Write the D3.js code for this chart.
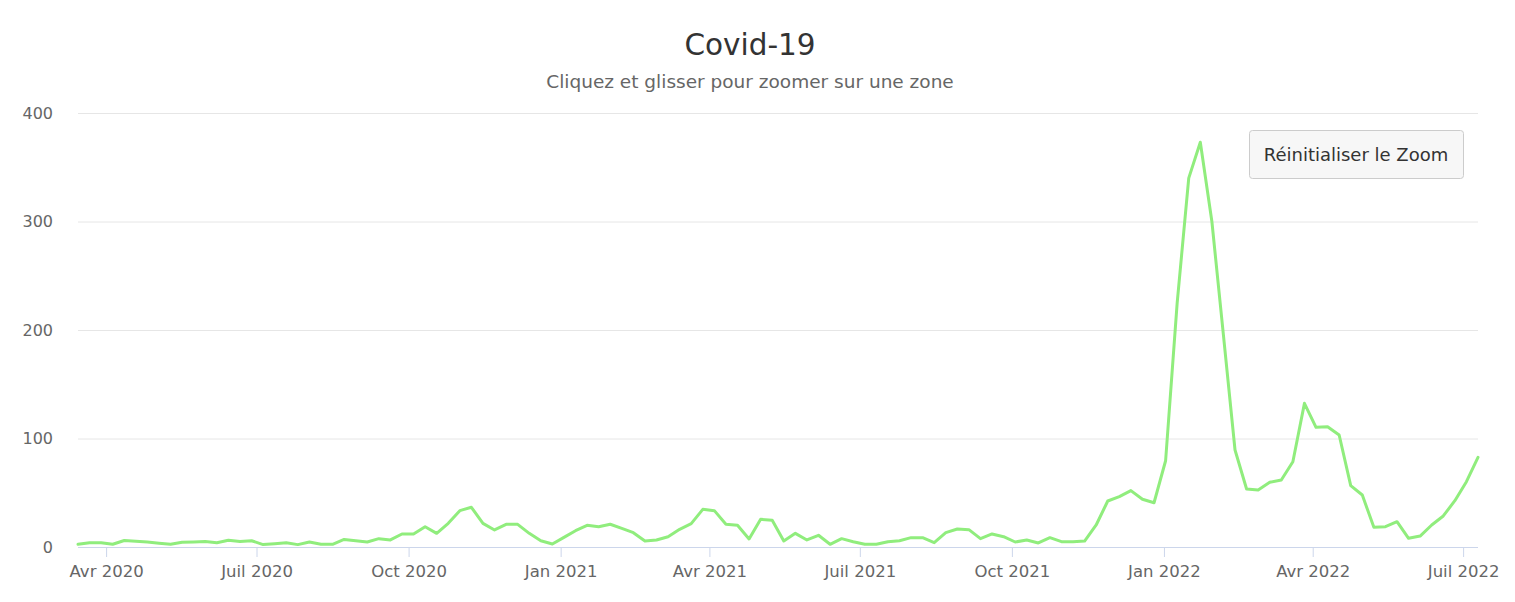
<!DOCTYPE html>
<html>
<head>
<meta charset="utf-8">
<script src="https://cdn.jsdelivr.net/npm/d3@7"></script>
<style>
  html, body { margin: 0; padding: 0; background: #fff; }
  svg { display: block; font-family: "DejaVu Sans", sans-serif; }
</style>
</head>
<body>
<svg id="chart" width="1515" height="602"></svg>
<script>
const titleText = "Covid-19";
const subtitleText = "Cliquez et glisser pour zoomer sur une zone";
const buttonText = "Réinitialiser le Zoom";

const dates = [
  "2020-03-15","2020-03-22","2020-03-29","2020-04-05","2020-04-12","2020-04-19","2020-04-26",
  "2020-05-03","2020-05-10","2020-05-17","2020-05-24","2020-05-31","2020-06-07","2020-06-14",
  "2020-06-21","2020-06-28","2020-07-05","2020-07-12","2020-07-19","2020-07-26","2020-08-02",
  "2020-08-09","2020-08-16","2020-08-23","2020-08-30","2020-09-06","2020-09-13","2020-09-20",
  "2020-09-27","2020-10-04","2020-10-11","2020-10-18","2020-10-25","2020-11-01","2020-11-08",
  "2020-11-15","2020-11-22","2020-11-29","2020-12-06","2020-12-13","2020-12-20","2020-12-27",
  "2021-01-03","2021-01-10","2021-01-17","2021-01-24","2021-01-31","2021-02-07","2021-02-14",
  "2021-02-21","2021-02-28","2021-03-07","2021-03-14","2021-03-21","2021-03-28","2021-04-04",
  "2021-04-11","2021-04-18","2021-04-25","2021-05-02","2021-05-09","2021-05-16","2021-05-23",
  "2021-05-30","2021-06-06","2021-06-13","2021-06-20","2021-06-27","2021-07-04","2021-07-11",
  "2021-07-18","2021-07-25","2021-08-01","2021-08-08","2021-08-15","2021-08-22","2021-08-29",
  "2021-09-05","2021-09-12","2021-09-19","2021-09-26","2021-10-03","2021-10-10","2021-10-17",
  "2021-10-24","2021-10-31","2021-11-07","2021-11-14","2021-11-21","2021-11-28","2021-12-05",
  "2021-12-12","2021-12-19","2021-12-26","2022-01-02","2022-01-09","2022-01-16","2022-01-23",
  "2022-01-30","2022-02-06","2022-02-13","2022-02-20","2022-02-27","2022-03-06","2022-03-13",
  "2022-03-20","2022-03-27","2022-04-03","2022-04-10","2022-04-17","2022-04-24","2022-05-01",
  "2022-05-08","2022-05-15","2022-05-22","2022-05-29","2022-06-05","2022-06-12","2022-06-19",
  "2022-06-26","2022-07-03","2022-07-10"
];

const values = [
  2.5, 4, 4, 2.5, 6, 5.3, 4.5, 3.5, 2.5, 4.3, 4.6, 5, 4, 6.2, 5, 5.8, 2.2, 3, 4, 2.2,
  4.6, 2.5, 2.5, 7, 5.8, 4.6, 7.7, 6.5, 12, 12, 18.7, 12.6, 21.8, 33.5, 36.6, 21.8, 15.7, 20.9, 20.9, 12.6,
  5.8, 2.8, 8.9, 15, 20, 18.7, 21, 17.2, 13.2, 5.5, 6.5, 9.5, 16.3, 21.5, 34.7, 33.5, 20.9, 20, 7.4, 25.5,
  24.6, 5.5, 12.6, 6.5, 10.8, 2.5, 7.7, 4.9, 2.5, 2.5, 4.9, 5.8, 8.6, 8.6, 4, 13.2, 16.6, 16, 7.7, 12,
  9.5, 4.6, 6.5, 3.7, 8.6, 4.9, 4.9, 5.5, 20.3, 42.4, 46.4, 52, 44, 40.8, 79.5, 225, 340, 373, 300, 195,
  89.4, 53.5, 52.5, 59.6, 61.8, 78.6, 132.4, 110.3, 110.9, 103.2, 56.5, 47.9, 18.1, 18.7, 23.3, 8, 10.1, 20.3, 28.6, 42.7,
  60.2, 82.7
];

const yTicks = [0, 100, 200, 300, 400];
const xTickDates = ["2020-04-01","2020-07-01","2020-10-01","2021-01-01","2021-04-01","2021-07-01",
                    "2021-10-01","2022-01-01","2022-04-01","2022-07-01"];
const monthNames = ["Jan","Févr","Mars","Avr","Mai","Juin","Juil","Août","Sept","Oct","Nov","Déc"];

const parse = d3.timeParse("%Y-%m-%d");
const data = dates.map((d, i) => ({ date: parse(d), value: values[i] }));

const svg = d3.select("#chart");
const margin = { left: 78, right: 1478, top: 113, bottom: 547 };

const x = d3.scaleTime()
  .domain(d3.extent(data, d => d.date))
  .range([margin.left, margin.right]);
const y = d3.scaleLinear()
  .domain([0, 400])
  .range([margin.bottom, margin.top]);

// Title & subtitle
svg.append("text")
  .attr("x", 750).attr("y", 55)
  .attr("text-anchor", "middle")
  .attr("font-size", 29.5).attr("fill", "#333333")
  .text(titleText);
svg.append("text")
  .attr("x", 750).attr("y", 88)
  .attr("text-anchor", "middle")
  .attr("font-size", 18.5).attr("fill", "#666666")
  .text(subtitleText);

// Grid lines
const yAxis = d3.axisLeft(y).tickValues(yTicks).tickSize(-(margin.right - margin.left)).tickPadding(25);
const gy = svg.append("g").attr("transform", `translate(${margin.left},0)`).call(yAxis);
gy.select(".domain").remove();
gy.selectAll(".tick line").attr("stroke", "#e6e6e6").attr("stroke-width", 1);
gy.selectAll(".tick text").attr("font-size", 16).attr("fill", "#666666")
  .attr("font-family", "DejaVu Sans, sans-serif");

// X axis
const xAxis = d3.axisBottom(x)
  .tickValues(xTickDates.map(parse))
  .tickSize(10)
  .tickPadding(8)
  .tickFormat(d => monthNames[d.getMonth()] + " " + d.getFullYear());
const gx = svg.append("g").attr("transform", `translate(0,${margin.bottom})`).call(xAxis);
gx.select(".domain").attr("stroke", "#ccd6eb").attr("d", `M${margin.left},0.5H${margin.right}`);
gx.selectAll(".tick line").attr("stroke", "#ccd6eb");
gx.selectAll(".tick text").attr("font-size", 16.5).attr("fill", "#666666")
  .attr("font-family", "DejaVu Sans, sans-serif");

// Line
const line = d3.line().x(d => x(d.date)).y(d => y(d.value));
svg.append("path")
  .datum(data)
  .attr("fill", "none")
  .attr("stroke", "#90ed7d")
  .attr("stroke-width", 3)
  .attr("stroke-linejoin", "round")
  .attr("stroke-linecap", "round")
  .attr("d", line);

// Reset zoom button
const btn = svg.append("g");
btn.append("rect")
  .attr("x", 1249.5).attr("y", 130.5)
  .attr("width", 214).attr("height", 48)
  .attr("rx", 3)
  .attr("fill", "#f7f7f7").attr("stroke", "#cccccc");
btn.append("text")
  .attr("x", 1356).attr("y", 161)
  .attr("text-anchor", "middle")
  .attr("font-size", 18).attr("fill", "#333333")
  .text(buttonText);
</script>
</body>
</html>
